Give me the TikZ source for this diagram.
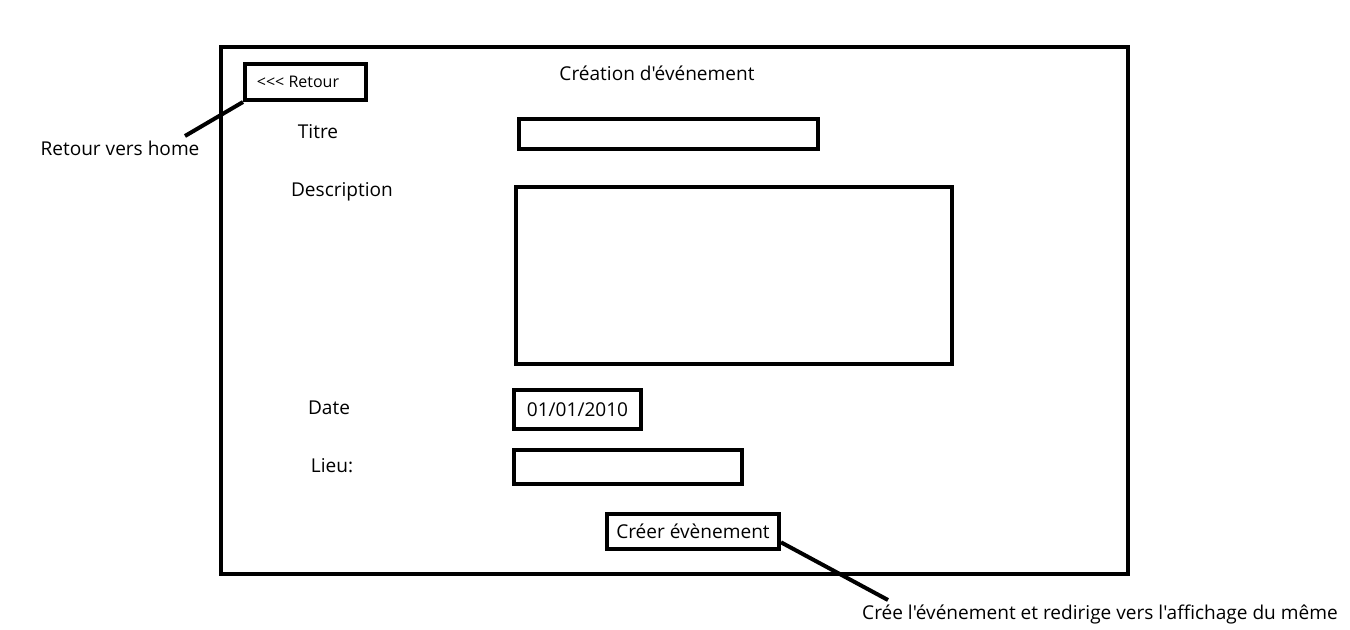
\documentclass[tikz,border=0pt]{standalone}
\usepackage{fontspec}
\setmainfont{Open Sans}[Ligatures=TeXOff]
\tikzset{
  cadre/.style={draw, line width=3pt, inner sep=0pt},
  texte/.style={inner sep=0pt, font=\fontsize{14.3}{17}\selectfont},
}
\begin{document}
\begin{tikzpicture}[x=.75pt, y=-.75pt]
\useasboundingbox (0,0) rectangle (1350,629);
\node[cadre, minimum width=907*.75pt, minimum height=527*.75pt] (ecran) at (674.5,310.5){};
\node[texte] (titrepage) at (657,73){Création d'événement};
\node[cadre, minimum width=121*.75pt, minimum height=36*.75pt, font=\fontsize{12}{14}\selectfont] (retour) at (305.5,82){};
\node[inner sep=0pt, font=\fontsize{12}{14}\selectfont] (txtretour) at (298,82){<<< Retour};
\node[texte] (lbltitre) at (318,132){Titre};
\node[cadre, minimum width=299*.75pt, minimum height=30*.75pt] (champtitre) at (668.5,134){};
\node[texte] (lbldesc) at (342,192){Description};
\node[cadre, minimum width=436*.75pt, minimum height=177*.75pt] (champdesc) at (734,275.5){};
\node[texte] (lbldate) at (329,408){Date};
\node[cadre, texte, minimum width=127*.75pt, minimum height=39*.75pt] (champdate) at (577.5,409.5){01/01/2010};
\node[texte] (lbllieu) at (332,466){Lieu:};
\node[cadre, minimum width=228*.75pt, minimum height=34*.75pt] (champlieu) at (628,467){};
\node[cadre, texte, minimum width=172*.75pt, minimum height=35*.75pt] (bouton) at (693,531.5){Créer évènement};
\node[texte] (notehome) at (120,148){Retour vers home};
\node[texte] (notecree) at (1100,614){Crée l'événement et redirige vers l'affichage du même};
\coordinate (pointhome) at (185,136);
\coordinate (pointcree) at (888,600);
\draw[line width=3pt](retour.south west) -- (pointhome);
\draw[line width=3pt](bouton.-7) -- (pointcree);
\end{tikzpicture}
\end{document}
